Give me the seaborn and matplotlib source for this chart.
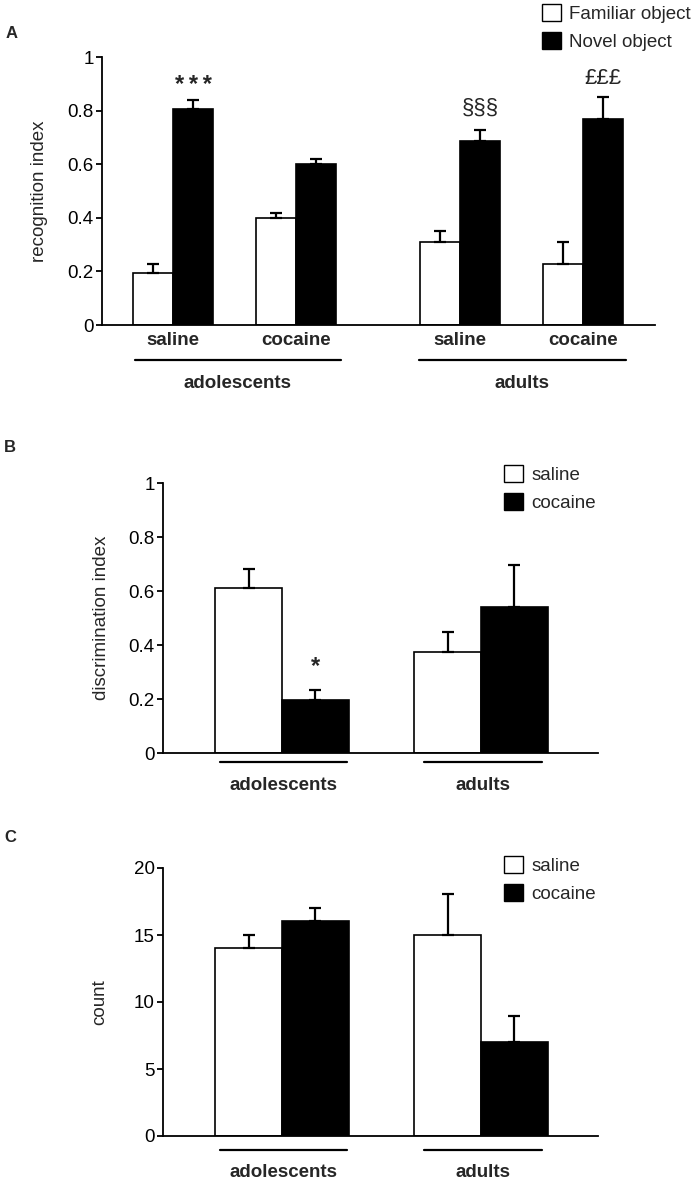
import numpy as np
import pandas as pd
import matplotlib
matplotlib.use("Agg")
import matplotlib.pyplot as plt
import seaborn as sns
from matplotlib.patches import Patch

sns.set_theme(style="white")
plt.rcParams['font.family'] = ['Liberation Sans', 'DejaVu Sans']

# ---------------- data ----------------
# Panel A: recognition index
a_ages = ["adolescents", "adolescents", "adults", "adults"]
a_treat = ["saline", "cocaine", "saline", "cocaine"]
a_familiar = [0.193, 0.400, 0.308, 0.228]
a_familiar_err = [0.035, 0.019, 0.042, 0.081]
a_novel = [0.805, 0.600, 0.686, 0.768]
a_novel_err = [0.035, 0.021, 0.043, 0.082]
a_objects = ["Familiar object", "Novel object"]
a_marks = ["*\u2009*\u2009*", "", "§§§", "£££"]
a_mark_y = [0.895, None, 0.81, 0.92]

# Panel B: discrimination index
b_ages = ["adolescents", "adults"]
b_saline = [0.610, 0.373]
b_saline_err = [0.070, 0.076]
b_cocaine = [0.196, 0.542]
b_cocaine_err = [0.039, 0.155]

# Panel C: count
c_ages = ["adolescents", "adults"]
c_saline = [14.0, 15.0]
c_saline_err = [1.0, 3.05]
c_cocaine = [16.05, 7.05]
c_cocaine_err = [1.0, 1.9]

treatments = ["saline", "cocaine"]
FS = 13.5
W, H = 694, 1181
fig = plt.figure(figsize=(W / 100, H / 100), dpi=100)


def ax_rect(x0, x1, ytop, ybot):
    return [x0 / W, 1 - ybot / H, (x1 - x0) / W, (ybot - ytop) / H]


def style_axis(ax):
    for s in ["top", "right"]:
        ax.spines[s].set_visible(False)
    for s in ["left", "bottom"]:
        ax.spines[s].set_linewidth(1.3)
        ax.spines[s].set_color("black")
    ax.tick_params(axis="y", direction="out", length=4, width=1.3, labelsize=FS,
                   left=True, pad=2, colors="black")
    ax.tick_params(axis="x", length=0, labelsize=FS, pad=5)
    ax.grid(False)


def add_errorbars(ax, errs_by_hue):
    for cont, errs in zip(ax.containers, errs_by_hue):
        for bar, e in zip(cont.patches, errs):
            xc = bar.get_x() + bar.get_width() / 2
            top = bar.get_height()
            ax.errorbar([xc], [top], yerr=[[0], [e]], fmt="none", ecolor="black",
                        elinewidth=1.6, capsize=4, capthick=1.6, zorder=1)


def legend(ax, labels, x, y):
    handles = [Patch(facecolor="white", edgecolor="black", linewidth=1.0, label=labels[0]),
               Patch(facecolor="black", edgecolor="black", linewidth=1.0, label=labels[1])]
    ax.legend(handles=handles, loc="upper left", bbox_to_anchor=(x / W, 1 - y / H),
              bbox_transform=fig.transFigure, frameon=False, fontsize=FS,
              handlelength=1.0, handleheight=1.0, handletextpad=0.45,
              labelspacing=0.5, borderpad=0, borderaxespad=0)


def group_lines(ax, spans, labels, ly, ty):
    tr = ax.get_xaxis_transform()
    for (x0, x1), lab in zip(spans, labels):
        ax.plot([x0, x1], [ly, ly], color="black", lw=1.6, transform=tr, clip_on=False)
        ax.text((x0 + x1) / 2, ty, lab, transform=tr, ha="center", va="center",
                fontsize=FS, fontweight="bold")


# ---------------- Panel A ----------------
axA = fig.add_axes(ax_rect(102, 655, 57, 325))
age_off = {"adolescents": 0.0, "adults": 0.333}
pos = [i + age_off[a] for i, a in enumerate(a_ages)]
dfA = pd.DataFrame({
    "pos": pos * 2,
    "value": a_familiar + a_novel,
    "object": [a_objects[0]] * 4 + [a_objects[1]] * 4,
})
sns.barplot(data=dfA, x="pos", y="value", hue="object", hue_order=a_objects,
            palette=["white", "black"], edgecolor="black", linewidth=1.2,
            native_scale=True, width=0.65, errorbar=None, ax=axA, legend=False,
            saturation=1)
add_errorbars(axA, [a_familiar_err, a_novel_err])
axA.set_ylim(0, 1)
axA.set_xlim(-0.577, 3.919)
axA.set_yticks([0, 0.2, 0.4, 0.6, 0.8, 1.0])
axA.set_yticklabels(["0", "0.2", "0.4", "0.6", "0.8", "1"])
axA.set_xticks(pos)
axA.set_xticklabels(a_treat, fontweight="bold")
axA.set_xlabel("")
axA.set_ylabel("recognition index", fontsize=FS)
style_axis(axA)
axA.yaxis.set_label_coords(-0.098, 0.5)
novel_bars = axA.containers[1].patches
for bar, m, my in zip(novel_bars, a_marks, a_mark_y):
    if m:
        star = m.startswith("*")
        axA.text(bar.get_x() + bar.get_width() / 2, my, m, ha="center", va="center",
                 fontsize=17 if star else 16, fontweight="bold" if star else "normal",
                 family=['Liberation Sans', 'DejaVu Sans'])
group_lines(axA, [(-0.309, 1.366), (2.0, 3.683)], ["adolescents", "adults"], -0.131, -0.22)
legend(axA, a_objects, 542, 4)
fig.text(6 / W, 1 - 33 / H, "A", fontsize=12, fontweight="bold", va="center")

# ---------------- Panel B ----------------
axB = fig.add_axes(ax_rect(163, 598, 483, 753))
dfB = pd.DataFrame({
    "age": b_ages * 2,
    "value": b_saline + b_cocaine,
    "treatment": [treatments[0]] * 2 + [treatments[1]] * 2,
})
sns.barplot(data=dfB, x="age", y="value", hue="treatment", hue_order=treatments,
            order=b_ages, palette=["white", "black"], edgecolor="black", linewidth=1.2,
            width=0.673, errorbar=None, ax=axB, legend=False, saturation=1)
add_errorbars(axB, [b_saline_err, b_cocaine_err])
axB.set_ylim(0, 1)
axB.set_xlim(-0.598, 1.588)
axB.set_yticks([0, 0.2, 0.4, 0.6, 0.8, 1.0])
axB.set_yticklabels(["0", "0.2", "0.4", "0.6", "0.8", "1"])
axB.set_xticks([])
axB.set_xlabel("")
axB.set_ylabel("discrimination index", fontsize=FS)
style_axis(axB)
axB.yaxis.set_label_coords(-0.122, 0.5)
cb = axB.containers[1].patches[0]
axB.text(cb.get_x() + cb.get_width() / 2, 0.32, "*", ha="center", va="center",
         fontsize=17, fontweight="bold")
group_lines(axB, [(-0.312, 0.327), (0.714, 1.307)], ["adolescents", "adults"], -0.035, -0.12)
legend(axB, treatments, 504, 465)
fig.text(4 / W, 1 - 448 / H, "B", fontsize=12, fontweight="bold", va="center")

# ---------------- Panel C ----------------
axC = fig.add_axes(ax_rect(163, 598, 868, 1136))
dfC = pd.DataFrame({
    "age": c_ages * 2,
    "value": c_saline + c_cocaine,
    "treatment": [treatments[0]] * 2 + [treatments[1]] * 2,
})
sns.barplot(data=dfC, x="age", y="value", hue="treatment", hue_order=treatments,
            order=c_ages, palette=["white", "black"], edgecolor="black", linewidth=1.2,
            width=0.673, errorbar=None, ax=axC, legend=False, saturation=1)
add_errorbars(axC, [c_saline_err, c_cocaine_err])
axC.set_ylim(0, 20)
axC.set_xlim(-0.598, 1.588)
axC.set_yticks([0, 5, 10, 15, 20])
axC.set_xticks([])
axC.set_xlabel("")
axC.set_ylabel("count", fontsize=FS)
style_axis(axC)
axC.yaxis.set_label_coords(-0.126, 0.5)
group_lines(axC, [(-0.312, 0.327), (0.714, 1.307)], ["adolescents", "adults"], -0.053, -0.138)
legend(axC, treatments, 504, 856)
fig.text(4 / W, 1 - 838 / H, "C", fontsize=12, fontweight="bold", va="center")

fig.savefig("out.png", dpi=100, facecolor="white")
